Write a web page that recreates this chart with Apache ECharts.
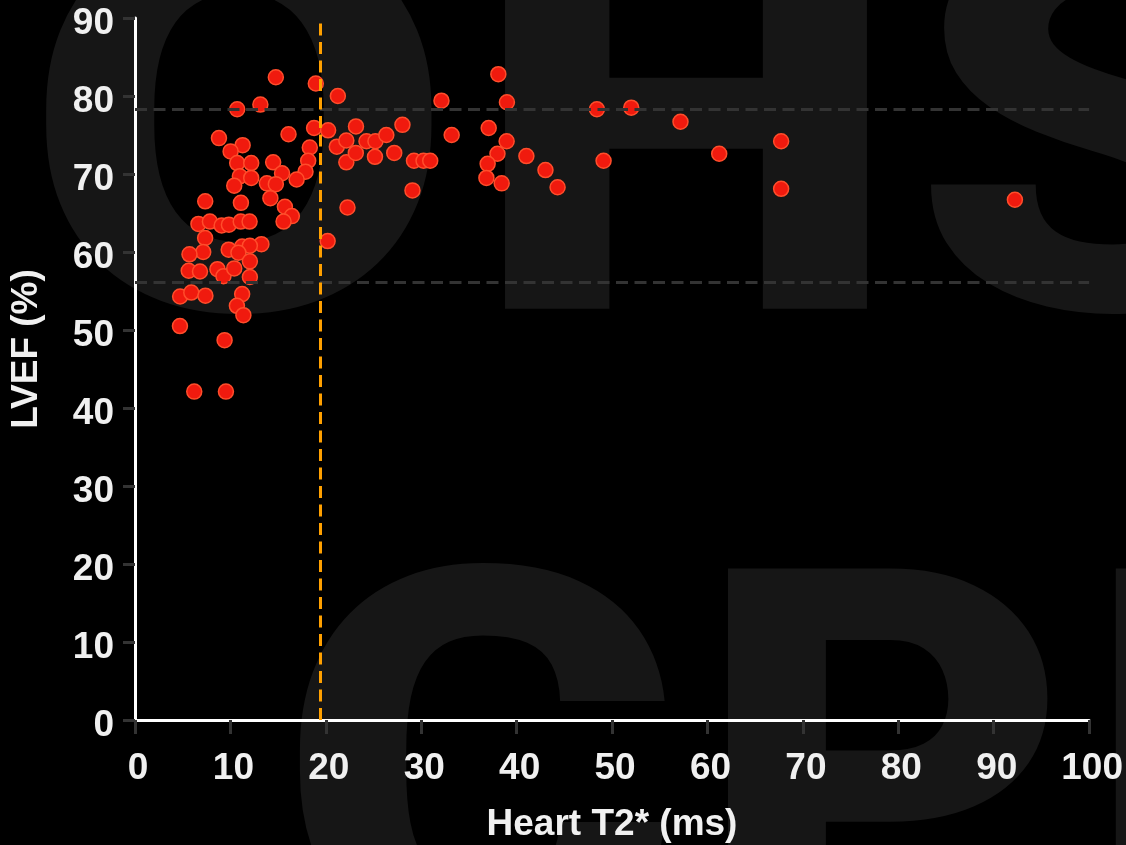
<!DOCTYPE html>
<html><head><meta charset="utf-8">
<script src="https://cdn.jsdelivr.net/npm/echarts@6/dist/echarts.min.js"></script>
<style>html,body{margin:0;padding:0;background:#000}#c{width:1126px;height:845px}</style>
</head><body><div id="c"></div>
<script>
// Heart T2* (ms)
const t2 = [14.76,18.95,10.71,13.14,21.26,32.12,38.08,38.98,8.80,16.09,18.77,20.24,11.28,10.02,10.71,12.18,14.48,18.32,18.15,17.87,
16.94,15.41,10.99,12.18,10.40,13.82,14.76,14.19,11.10,7.36,15.71,16.44,15.57,6.65,7.85,9.08,9.84,11.08,12.01,7.35,
13.25,11.23,12.04,9.82,10.84,7.15,5.71,12.04,5.63,6.81,8.64,9.27,10.40,12.04,4.73,5.90,7.38,11.23,10.68,11.36,
22.27,20.19,21.15,22.15,22.15,23.16,23.14,24.26,25.20,25.15,26.34,27.17,28.03,29.24,30.24,30.94,29.08,33.19,37.07,38.95,
37.99,36.96,36.83,38.43,41.02,43.02,44.29,48.41,49.11,52.01,57.17,61.23,67.72,67.72,92.22,4.71,9.39,6.21,9.53];
// LVEF (%)
const lvef = [82.4,81.6,78.3,78.9,80.0,79.4,82.8,79.2,74.6,75.1,75.9,75.6,73.7,72.9,71.4,71.4,71.5,73.4,71.7,70.3,
69.3,70.1,69.7,69.5,68.5,68.8,68.7,66.9,66.3,66.5,65.8,64.6,63.9,63.6,63.9,63.4,63.5,63.9,63.9,61.8,
61.0,60.7,60.8,60.3,59.9,60.0,59.7,58.8,57.6,57.5,57.8,56.9,57.9,56.8,54.3,54.8,54.4,54.6,53.1,51.9,
65.7,61.4,73.5,74.3,71.5,76.1,72.7,74.2,74.2,72.2,75.0,72.7,76.3,71.7,71.7,71.7,67.9,75.0,75.9,74.2,
72.6,71.3,69.5,68.8,72.3,70.5,68.3,78.3,71.7,78.5,76.7,72.6,74.2,68.1,66.7,50.5,48.7,42.1,42.1];
const lvefRefLines = [78.3, 56.1];
const t2Threshold = 19.45;
const xTitle = 'Heart T2* (ms)';
const yTitle = 'LVEF (%)';
const watermarkTop = ['O','H','S'];
const watermarkBottom = ['C','P','I'];

const points = t2.map((v, i) => [v, lvef[i]]);
const FONT = '"Liberation Sans", Arial, sans-serif';
const TXT = '#f0f0f0';

const wmFont = {fontSize: 539, fontFamily: 'Roboto', fontWeight: 900};
const wmTopX = [25, 472, 912], wmTopS = [1.15, 1.13, 1.13];
const wmBotX = [279, 697, 1077], wmBotS = [1.135, 1.06, 1.1];
const wmEls = [];
watermarkTop.forEach((ch, i) => wmEls.push({type:'text', x: wmTopX[i], y: 174, scaleX: wmTopS[i], z: -100, silent: true,
  style: Object.assign({text: ch, fill: '#161616', align: 'left', verticalAlign: 'middle'}, wmFont)}));
watermarkBottom.forEach((ch, i) => wmEls.push({type:'text', x: wmBotX[i], y: 817, scaleX: wmBotS[i], z: -100, silent: true,
  style: Object.assign({text: ch, fill: '#161616', align: 'left', verticalAlign: 'middle'}, wmFont)}));

const chart = echarts.init(document.getElementById('c'));
chart.setOption({
  backgroundColor: '#000',
  animation: false,
  graphic: wmEls.concat([
    {type:'text', x: 612, y: 825, z: 10, silent: true,
     style: {text: xTitle, fill: TXT, fontSize: 37, fontWeight: 'bold', fontFamily: FONT, align: 'center', verticalAlign: 'middle'}},
    {type:'text', x: 27, y: 349, rotation: Math.PI / 2, z: 10, silent: true,
     style: {text: yTitle, fill: TXT, fontSize: 37, fontWeight: 'bold', fontFamily: FONT, align: 'center', verticalAlign: 'middle'}}
  ]),
  grid: {left: 135, right: 36, top: 18, bottom: 125, containLabel: false},
  xAxis: {
    type: 'value', min: 0, max: 100, interval: 10,
    axisLine: {show: true, lineStyle: {color: '#fff', width: 3}},
    axisTick: {show: true, length: 14, lineStyle: {color: '#333', width: 3}},
    splitLine: {show: false},
    axisLabel: {color: TXT, fontSize: 37, fontWeight: 'bold', fontFamily: FONT, margin: 30, padding: [0,0,0,6]}
  },
  yAxis: {
    type: 'value', min: 0, max: 90, interval: 10,
    axisLine: {show: true, lineStyle: {color: '#fff', width: 3}},
    axisTick: {show: true, length: 12, lineStyle: {color: '#333', width: 3}},
    splitLine: {show: false},
    axisLabel: {color: TXT, fontSize: 37, fontWeight: 'bold', fontFamily: FONT, margin: 21,
      verticalAlign: 'top', lineHeight: 11}
  },
  series: [
    {type: 'scatter', data: [], z: 1, silent: true,
     markLine: {silent: true, symbol: ['none','none'], label: {show: false},
       lineStyle: {color: '#333', width: 3, type: [12, 6.5]},
       data: lvefRefLines.map(v => ({yAxis: v}))}},
    {type: 'scatter', data: points, z: 2, symbolSize: 15,
     itemStyle: {color: '#f01a0e', borderColor: '#ff4d2b', borderWidth: 1.5, opacity: 1}},
    {type: 'scatter', data: [], z: 3, silent: true,
     markLine: {silent: true, symbol: ['none','none'], label: {show: false},
       lineStyle: {color: '#ffa000', width: 3, type: [12, 6.5]},
       data: [{xAxis: t2Threshold}]}}
  ]
});
</script></body></html>
